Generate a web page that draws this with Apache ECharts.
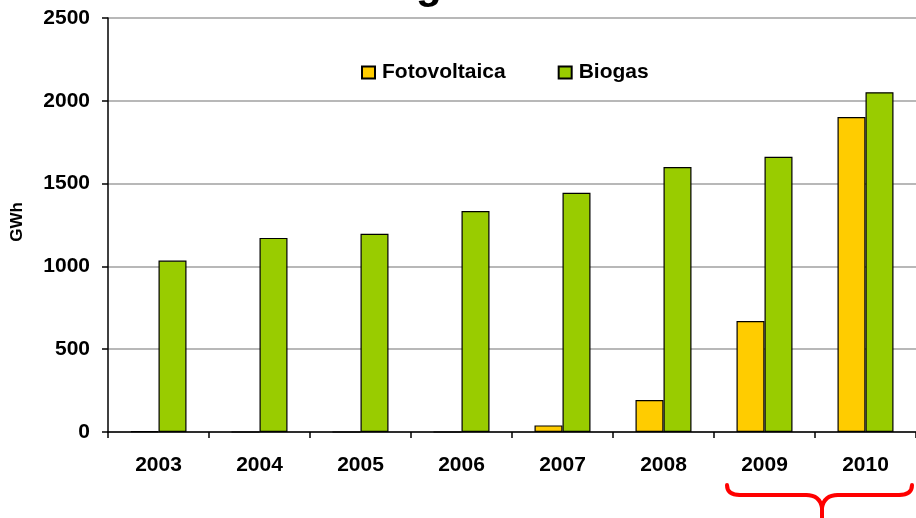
<!DOCTYPE html>
<html>
<head>
<meta charset="utf-8">
<script src="https://cdn.jsdelivr.net/npm/echarts@6/dist/echarts.min.js"></script>
<style>
html,body{margin:0;padding:0;background:#fff;}
#chart{width:916px;height:518px;}
</style>
</head>
<body>
<div id="chart"></div>
<script>
// Annual production (GWh)
var years = ['2003', '2004', '2005', '2006', '2007', '2008', '2009', '2010'];
var fotovoltaica = [5, 0, 0, 0, 40, 193, 670, 1902];
var biogas = [1035, 1172, 1197, 1334, 1445, 1600, 1662, 2052];
var yTicks = [0, 500, 1000, 1500, 2000, 2500];

var FONT = 'Liberation Sans, Arial, sans-serif';
var chart = echarts.init(document.getElementById('chart'), null, { renderer: 'canvas' });

// red brace under 2009–2010, built from curves and straight pieces
var braceStyle = { stroke: '#ff0000', lineWidth: 4, fill: null, lineCap: 'round' };
function curve(x1, y1, cx, cy, x2, y2) {
  return { type: 'bezierCurve', silent: true, shape: { x1: x1, y1: y1, cpx1: cx, cpy1: cy, x2: x2, y2: y2 }, style: braceStyle };
}
function seg(x1, y1, x2, y2) {
  return { type: 'line', silent: true, shape: { x1: x1, y1: y1, x2: x2, y2: y2 }, style: braceStyle };
}
var brace = [
  curve(727, 485, 727, 495, 740, 495),
  seg(740, 495, 806, 495),
  curve(806, 495, 820, 495, 822, 508),
  seg(822, 508, 822, 522),
  curve(822, 508, 824, 495, 838, 495),
  seg(838, 495, 899, 495),
  curve(899, 495, 912, 495, 912, 485)
];

chart.setOption({
  animation: false,
  backgroundColor: '#ffffff',
  textStyle: { fontFamily: FONT },
  graphic: [
    // bottom of the heading, clipped by the top edge
    {
      type: 'text', x: 416, y: -35, silent: true,
      style: { text: 'g', font: 'bold 42px ' + FONT, fill: '#000' }
    }
  ].concat(brace),
  legend: {
    left: 356, top: 57,
    itemWidth: 13, itemHeight: 12, itemGap: 52,
    icon: 'rect',
    textStyle: { fontSize: 21, fontWeight: 'bold', color: '#000', fontFamily: FONT, padding: [0, 0, 0, 2] },
    data: ['Fotovoltaica', 'Biogas']
  },
  grid: { left: 108, top: 18, width: 812, height: 414, containLabel: false },
  xAxis: {
    type: 'category',
    data: years,
    axisLine: { lineStyle: { color: '#000', width: 1.5 } },
    axisTick: { show: true, length: 6, lineStyle: { color: '#000', width: 1.5 } },
    axisLabel: { margin: 23, fontSize: 21, fontWeight: 'bold', color: '#000', fontFamily: FONT },
    splitLine: { show: false }
  },
  yAxis: {
    type: 'value',
    min: 0, max: 2500, interval: 500,
    name: 'GWh',
    nameLocation: 'middle',
    nameRotate: 90,
    nameGap: 82,
    nameTextStyle: { fontSize: 17, fontWeight: 'bold', color: '#000', fontFamily: FONT, padding: [0, 0, 0, 6] },
    axisLine: { show: true, lineStyle: { color: '#000', width: 1.5 } },
    axisTick: { show: true, length: 6, lineStyle: { color: '#000', width: 1.5 } },
    axisLabel: {
      margin: 18, fontSize: 21, fontWeight: 'bold', color: '#000', fontFamily: FONT,
      formatter: function (v) { return yTicks.indexOf(v) >= 0 ? String(v) : ''; }
    },
    splitLine: { show: true, lineStyle: { color: '#a0a0a0', width: 1.5 } }
  },
  series: [
    {
      name: 'Fotovoltaica', type: 'bar', data: fotovoltaica,
      barWidth: 28, barGap: '0%',
      itemStyle: { color: '#ffcc00', borderColor: '#000', borderWidth: 1.2 }
    },
    {
      name: 'Biogas', type: 'bar', data: biogas,
      barWidth: 28,
      itemStyle: { color: '#99cc00', borderColor: '#000', borderWidth: 1.2 }
    }
  ]
});
</script>
</body>
</html>
